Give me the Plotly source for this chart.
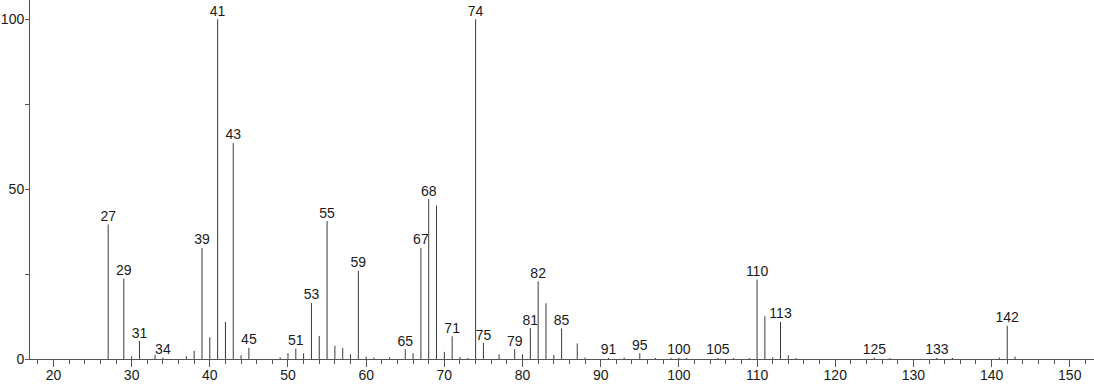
import plotly.graph_objects as go

# m/z values and relative intensities (%)
mz = [27, 29, 30, 31, 33, 34, 37, 38, 39, 40, 41, 42, 43, 44, 45,
      49, 50, 51, 52, 53, 54, 55, 56, 57, 58, 59, 60, 61, 63, 65, 66,
      67, 68, 69, 70, 71, 72, 73, 74, 75, 77, 79, 80, 81, 82, 83, 84,
      85, 87, 88, 91, 93, 95, 97, 99, 100, 101, 105, 107, 109, 110, 111,
      112, 113, 114, 115, 125, 127, 133, 135, 141, 142, 143]
intensity = [39.6, 23.7, 0.8, 5.3, 1.2, 0.4, 0.8, 2.4, 32.7, 6.4, 100, 10.9, 63.6, 1.1, 3.3,
             0.5, 1.7, 3.1, 1.7, 16.5, 6.8, 40.6, 3.9, 3.2, 1.4, 26.0, 0.7, 0.4, 0.5, 2.9, 1.7,
             32.7, 47.1, 45.2, 2.1, 6.7, 0.6, 0.3, 100, 4.7, 1.4, 2.9, 1.4, 9.1, 22.9, 16.4, 1.2,
             9.0, 4.6, 0.4, 0.3, 0.4, 1.7, 0.3, 0.3, 0.3, 0.3, 0.3, 0.3, 0.3, 23.4, 12.6,
             0.5, 10.9, 1.1, 0.3, 0.4, 0.3, 0.3, 0.3, 0.4, 9.8, 0.7]

labeled = [27, 29, 31, 34, 39, 41, 43, 45, 51, 53, 55, 59, 65, 67, 68, 71, 74,
           75, 79, 81, 82, 85, 91, 95, 100, 105, 110, 113, 125, 133, 142]

y_ticks = [0, 25, 50, 75, 100]
y_ticktext = ["0", "", "50", "", "100"]
x_ticks = [20, 30, 40, 50, 60, 70, 80, 90, 100, 110, 120, 130, 140, 150]

# build stick segments from the data
xs, ys = [], []
for m, v in zip(mz, intensity):
    xs += [m, m, None]
    ys += [0, v, None]

lookup = dict(zip(mz, intensity))
lab_x = labeled
lab_y = [lookup[m] for m in labeled]
lab_t = [str(m) for m in labeled]

fig = go.Figure()
fig.add_trace(go.Scatter(x=xs, y=ys, mode="lines",
                         line=dict(color="#3a3a3a", width=1),
                         hoverinfo="skip", showlegend=False))
fig.add_trace(go.Scatter(x=lab_x, y=lab_y, mode="text", text=lab_t,
                         textposition="top center",
                         textfont=dict(size=14, color="#1a1a1a", family="Liberation Sans, Arial"),
                         cliponaxis=False, hoverinfo="skip", showlegend=False))

fig.update_layout(
    width=1094, height=384,
    margin=dict(l=30, r=0, t=0, b=25, autoexpand=False),
    paper_bgcolor="white", plot_bgcolor="white",
    font=dict(family="Liberation Sans, Arial", size=14, color="#1a1a1a"),
)
fig.update_xaxes(range=[17.0, 153.1], showgrid=False, zeroline=False, automargin=False,
                 showline=True, linecolor="#555", linewidth=1,
                 tickvals=x_ticks, ticks="outside", ticklen=7, tickcolor="#555",
                 ticklabelstandoff=-4,
                 minor=dict(dtick=2, tick0=0, ticks="outside", ticklen=4, tickcolor="#555"),
                 tickfont=dict(size=14))
fig.update_yaxes(range=[0, 105.7], showgrid=False, zeroline=False, automargin=False,
                 showline=True, linecolor="#555", linewidth=1,
                 tickvals=y_ticks, ticktext=y_ticktext,
                 ticks="outside", ticklen=4, tickcolor="#555",
                 ticklabelstandoff=-2,
                 tickfont=dict(size=14))

fig.write_html("out.html", config={"displayModeBar": False},
               post_script="document.body.style.margin='0';document.body.style.overflow='hidden';")
